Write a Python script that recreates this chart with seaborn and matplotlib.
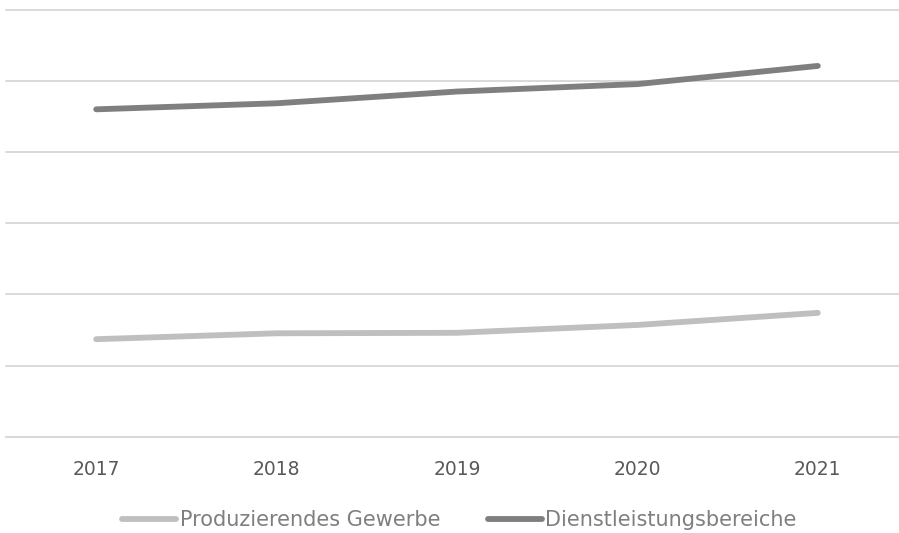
import matplotlib
matplotlib.use("Agg")
import matplotlib.pyplot as plt
import seaborn as sns
import pandas as pd

years = ["2017", "2018", "2019", "2020", "2021"]
produzierendes_gewerbe = [13700, 14530, 14600, 15700, 17400]
dienstleistungsbereiche = [46000, 46850, 48500, 49550, 52100]
series_names = ["Produzierendes Gewerbe", "Dienstleistungsbereiche"]
series_colors = ["#BFBFBF", "#7F7F7F"]

df = pd.DataFrame({
    "Jahr": years * 2,
    "Wert": produzierendes_gewerbe + dienstleistungsbereiche,
    "Bereich": [series_names[0]] * len(years) + [series_names[1]] * len(years),
})

sns.set_theme(style="white")
plt.rcParams["font.family"] = ["DejaVu Sans"]

fig = plt.figure(figsize=(8.99, 5.33), dpi=100)
# plot area runs slightly past the right edge of the canvas
ax = fig.add_axes([6 / 899, 1 - 436.7 / 533, 902 / 899, (436.7 - 9.7) / 533])

sns.lineplot(
    data=df, x="Jahr", y="Wert", hue="Bereich",
    palette=dict(zip(series_names, series_colors)),
    linewidth=4.2, ax=ax, legend=False, sort=False,
)
for line in ax.lines:
    line.set_solid_capstyle("round")
    line.set_solid_joinstyle("round")

ax.set_xlim(-0.5, len(years) - 0.5)
ax.set_ylim(0, 60000)
ax.set_yticks(range(0, 60001, 10000))
ax.yaxis.grid(True, color="#D9D9D9", linewidth=1.4)
for gl in ax.get_ygridlines():
    gl.set_clip_on(False)
ax.set_axisbelow(True)
ax.set_yticklabels([])
ax.tick_params(axis="y", length=0)
ax.tick_params(axis="x", length=0, labelsize=13.5, labelcolor="#595959", pad=17)
ax.set_xlabel("")
ax.set_ylabel("")
for side in ["top", "right", "left"]:
    ax.spines[side].set_visible(False)
ax.spines["bottom"].set_color("#D9D9D9")
ax.spines["bottom"].set_linewidth(1.4)

handles = [plt.Line2D([], [], color=c, linewidth=4.2, solid_capstyle="round") for c in series_colors]
leg = fig.legend(
    handles, series_names, loc="center", bbox_to_anchor=(459.5 / 899, 1 - 520 / 533),
    ncol=2, frameon=False, fontsize=15, handlelength=2.6, handletextpad=0.15,
    columnspacing=2.3,
)
for t in leg.get_texts():
    t.set_color("#7F7F7F")

fig.savefig("out.png", dpi=100)
